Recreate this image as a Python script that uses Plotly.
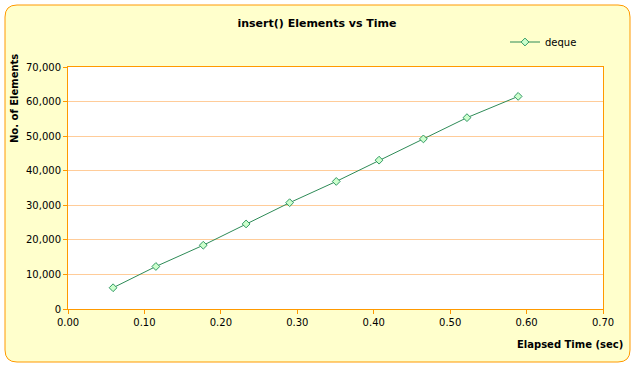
import plotly.graph_objects as go

# Data
elapsed_sec = [0.059, 0.115, 0.177, 0.233, 0.290, 0.351, 0.407, 0.465, 0.522, 0.589]
elements = [6150, 12300, 18450, 24600, 30750, 36900, 43050, 49200, 55350, 61500]
series_name = "deque"
chart_title = "insert() Elements vs Time"
x_title = "Elapsed Time (sec)"
y_title = "No. of Elements"

W, H = 635, 367
L, R, T, B = 68, 32, 67, 58
PW, PH = W - L - R, H - T - B


def px(x):
    return (x - L) / PW


def py(y):
    return (H - B - y) / PH


def rounded_rect(x0, y0, x1, y1, r):
    rx, ry = r / PW, r / PH
    X0, X1 = px(x0), px(x1)
    Y0, Y1 = py(y0), py(y1)  # Y0 top (larger), Y1 bottom
    return (
        f"M {X0+rx},{Y0} L {X1-rx},{Y0} Q {X1},{Y0} {X1},{Y0-ry} "
        f"L {X1},{Y1+ry} Q {X1},{Y1} {X1-rx},{Y1} "
        f"L {X0+rx},{Y1} Q {X0},{Y1} {X0},{Y1+ry} "
        f"L {X0},{Y0-ry} Q {X0},{Y0} {X0+rx},{Y0} Z"
    )


FONT = "DejaVu Sans, Verdana, sans-serif"
ORANGE = "#FF9900"

fig = go.Figure()
fig.add_trace(go.Scatter(
    x=elapsed_sec, y=elements, name=series_name, mode="lines+markers",
    line=dict(color="#2E8B57", width=1),
    marker=dict(symbol="diamond", size=6, color="#CCFFCC",
                line=dict(color="#339966", width=1)),
))

fig.update_layout(
    width=W, height=H,
    margin=dict(l=L, r=R, t=T, b=B),
    paper_bgcolor="white",
    plot_bgcolor="rgba(0,0,0,0)",
    font=dict(family=FONT, size=10, color="black"),
    showlegend=True,
    legend=dict(x=px(505), y=py(42), xanchor="left", yanchor="middle",
                bgcolor="rgba(0,0,0,0)", font=dict(size=10)),
    title=dict(text=f"<b>{chart_title}</b>", x=317 / W, y=1 - 23 / H,
               xanchor="center", yanchor="middle",
               font=dict(size=11, family=FONT)),
    shapes=[
        dict(type="path", xref="paper", yref="paper", layer="below",
             path=rounded_rect(5, 5, 630, 362, 12),
             fillcolor="#FFFFCC", line=dict(color=ORANGE, width=1)),
        dict(type="rect", xref="paper", yref="paper", layer="below",
             x0=0, x1=1, y0=0, y1=1, fillcolor="white",
             line=dict(width=0)),
    ],
    annotations=[
        dict(text=f"<b>{y_title}</b>", xref="paper", yref="paper",
             x=px(14), y=py(99), textangle=-90, showarrow=False,
             xanchor="center", yanchor="middle", font=dict(size=10)),
        dict(text=f"<b>{x_title}</b>", xref="paper", yref="paper",
             x=px(570), y=py(344), showarrow=False,
             xanchor="center", yanchor="middle", font=dict(size=10)),
    ],
)

fig.update_xaxes(
    range=[0, 0.7], dtick=0.1, tick0=0, tickformat=".2f",
    showgrid=False, zeroline=False,
    showline=True, linecolor=ORANGE, linewidth=1, mirror=True,
    ticks="outside", ticklen=4, tickcolor=ORANGE,
    tickfont=dict(size=10),
)
fig.update_yaxes(
    range=[0, 70000], dtick=10000, tick0=0, tickformat=",d",
    showgrid=True, gridcolor="#FFCC99", gridwidth=1, zeroline=False,
    showline=True, linecolor=ORANGE, linewidth=1, mirror=True,
    ticks="outside", ticklen=4, tickcolor=ORANGE,
    tickfont=dict(size=10),
)

fig.write_html("out.html")
